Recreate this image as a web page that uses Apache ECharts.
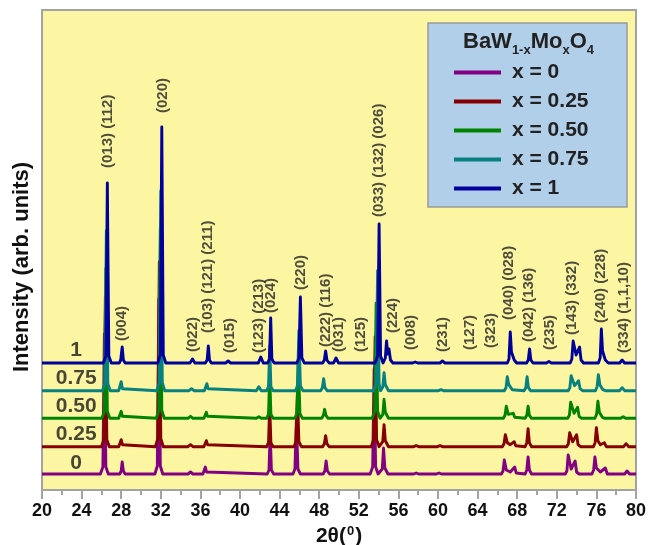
<!DOCTYPE html>
<html><head><meta charset="utf-8">
<script src="https://cdn.jsdelivr.net/npm/echarts/dist/echarts.min.js"></script>
<style>html,body{margin:0;padding:0;background:#fff}#c{width:649px;height:545px}</style>
</head><body><div id="c"></div>
<script>
const FONT = '"Liberation Sans", Arial, Helvetica, sans-serif';
const seriesNames = ['x = 0', 'x = 0.25', 'x = 0.50', 'x = 0.75', 'x = 1'];
const traceNames = ['0', '0.25', '0.50', '0.75', '1'];
const lineColors = ['#820082', '#850000', '#008400', '#078080', '#00009a'];
const offsets = [16, 43.3, 71.7, 99.3, 127];
const traceNameX = [23.45, 23.45, 23.45, 23.45, 23.45];
const traceNameY = [27, 56, 84, 112, 140];

// [2theta, intensity above the trace's baseline]
const xrd0 = [[20,0],
 [25.9,0],[26.15,7],[26.3,140],[26.45,7],[26.7,0],
 [27.85,0],[28.0,3],[28.1,12],[28.22,3],[28.4,0],
 [31.4,0],[31.65,8],[31.8,175],[31.95,8],[32.2,0],
 [34.75,0],[35.0,2],[35.25,0],
 [36.25,0],[36.4,2],[36.5,7],[36.62,2],[36.8,0],
 [42.75,0],[42.93,4],[43.05,42],[43.17,4],[43.4,0],
 [45.35,0],[45.55,5],[45.7,55],[45.85,5],[46.1,0],
 [48.4,0],[48.57,3],[48.7,13],[48.83,3],[49.05,0],
 [53.15,0],[53.4,7],[53.55,105],[53.7,7],[53.95,0],
 [54.15,0],[54.37,5],[54.5,26],[54.63,6],[54.75,4],[54.95,0],
 [57.55,0],[57.8,1],[58.05,0],
 [59.85,0],[60.1,1],[60.35,0],
 [66.4,0],[66.57,3],[66.7,14],[66.9,4],[67.3,2],[67.75,7],[67.9,1],[68.1,0],
 [68.8,0],[68.97,4],[69.1,17],[69.23,4],[69.45,0],
 [72.85,0],[73.02,3],[73.15,19],[73.45,5],[73.85,13],[74.0,2],[74.25,0],
 [75.55,0],[75.72,4],[75.85,17],[76.0,6],[76.4,2],[76.9,6],[77.1,0],
 [78.85,0],[79.1,3],[79.35,0],
 [80,0]];
const xrd025 = [[20,0],
 [26.0,0],[26.25,7],[26.4,150],[26.55,7],[26.8,0],
 [27.75,0],[27.9,2],[28.0,7],[28.12,2],[28.3,0],
 [31.45,0],[31.7,8],[31.85,185],[32.0,8],[32.25,0],
 [34.75,0],[35.0,2],[35.25,0],
 [36.35,0],[36.5,2],[36.6,6],[36.72,2],[36.9,0],
 [42.7,0],[42.88,4],[43.0,42],[43.12,4],[43.35,0],
 [45.45,0],[45.65,5],[45.8,55],[45.95,5],[46.2,0],
 [48.35,0],[48.52,3],[48.65,11],[48.78,3],[49.0,0],
 [53.25,0],[53.5,7],[53.65,110],[53.8,7],[54.05,0],
 [54.2,0],[54.42,5],[54.55,22],[54.68,6],[54.8,4],[55.0,0],
 [57.55,0],[57.8,1],[58.05,0],
 [59.95,0],[60.2,1],[60.45,0],
 [66.5,0],[66.67,3],[66.8,12],[67.0,4],[67.3,2],[67.7,5],[67.85,1],[68.05,0],
 [68.8,0],[68.97,4],[69.1,18],[69.23,4],[69.45,0],
 [73.0,0],[73.17,3],[73.3,14],[73.6,5],[74.0,12],[74.15,2],[74.4,0],
 [75.7,0],[75.87,4],[76.0,19],[76.15,6],[76.4,2],[76.8,4],[77.0,0],
 [78.75,0],[79.0,3],[79.25,0],
 [80,0]];
const xrd050 = [[20,0],
 [26.05,0],[26.3,7],[26.45,150],[26.6,7],[26.85,0],
 [27.75,0],[27.9,2],[28.0,7],[28.12,2],[28.3,0],
 [31.55,0],[31.8,8],[31.95,190],[32.1,8],[32.35,0],
 [34.75,0],[35.0,2],[35.25,0],
 [36.35,0],[36.5,2],[36.6,6],[36.72,2],[36.9,0],
 [41.65,0],[41.9,1.5],[42.15,0],
 [42.7,0],[42.88,4],[43.0,45],[43.12,4],[43.35,0],
 [45.55,0],[45.75,5],[45.9,58],[46.05,5],[46.3,0],
 [48.25,0],[48.42,3],[48.55,9],[48.68,3],[48.9,0],
 [53.35,0],[53.6,7],[53.75,115],[53.9,7],[54.15,0],
 [54.25,0],[54.43,4],[54.55,19],[54.68,6],[54.8,4],[55.0,0],
 [66.6,0],[66.77,3],[66.9,12],[67.1,4],[67.3,3],[67.6,5],[67.75,1],[67.95,0],
 [68.8,0],[68.97,3],[69.1,12],[69.23,3],[69.45,0],
 [73.1,0],[73.27,3],[73.4,16],[73.75,5],[74.1,11],[74.25,2],[74.5,0],
 [75.85,0],[76.02,4],[76.15,17],[76.3,6],[76.45,5],[76.6,1],[76.85,0],
 [78.45,0],[78.7,1.5],[78.95,0],
 [80,0]];
const xrd075 = [[20,0],
 [26.1,0],[26.35,7],[26.5,160],[26.65,7],[26.9,0],
 [27.75,0],[27.9,2],[28.0,9],[28.12,2],[28.3,0],
 [31.6,0],[31.85,8],[32.0,200],[32.15,8],[32.4,0],
 [34.85,0],[35.1,2],[35.35,0],
 [36.4,0],[36.55,2],[36.65,7],[36.77,2],[36.95,0],
 [41.65,0],[41.9,4],[42.15,0],
 [42.7,0],[42.88,4],[43.0,45],[43.12,4],[43.35,0],
 [45.6,0],[45.8,5],[45.95,60],[46.1,5],[46.35,0],
 [48.15,0],[48.32,3],[48.45,12],[48.58,3],[48.8,0],
 [53.5,0],[53.75,7],[53.9,120],[54.05,7],[54.2,0],
 [54.25,0],[54.43,4],[54.55,18],[54.68,6],[54.8,4],[55.0,0],
 [60.05,0],[60.3,1],[60.55,0],
 [66.7,0],[66.87,3],[67.0,14],[67.15,6],[67.35,6],[67.5,1],[67.7,0],
 [68.7,0],[68.87,3],[69.0,14],[69.13,3],[69.35,0],
 [73.15,0],[73.32,3],[73.45,15],[73.8,5],[74.2,10],[74.35,2],[74.6,0],
 [75.9,0],[76.07,4],[76.2,16],[76.35,6],[76.5,5],[76.65,1],[76.9,0],
 [78.35,0],[78.6,3],[78.85,0],
 [80,0]];
const xrd1 = [[20,0],
 [26.2,0],[26.45,7],[26.6,180],[26.75,7],[27.0,0],
 [27.8,0],[27.95,3],[28.1,16],[28.22,3],[28.4,0],
 [31.7,0],[31.95,8],[32.1,236],[32.25,8],[32.5,0],
 [34.95,0],[35.2,4],[35.45,0],
 [36.5,0],[36.68,3],[36.8,17],[36.92,3],[37.1,0],
 [38.55,0],[38.8,2],[39.05,0],
 [41.85,0],[42.1,6],[42.35,0],
 [42.8,0],[42.98,4],[43.1,45],[43.22,4],[43.45,0],
 [45.75,0],[45.95,5],[46.1,66],[46.25,5],[46.5,0],
 [48.35,0],[48.52,3],[48.65,12],[48.78,3],[49.0,0],
 [49.45,0],[49.7,5],[49.95,0],
 [53.65,0],[53.9,7],[54.05,139],[54.2,7],
 [54.45,0],[54.68,5],[54.8,22],[54.92,9],[55.05,14],[55.2,3],[55.45,0],
 [57.45,0],[57.7,1],[57.95,0],
 [60.2,0],[60.45,2],[60.7,0],
 [67.0,0],[67.17,4],[67.3,31],[67.42,11],[67.55,12],[67.7,3],[67.95,0],
 [68.95,0],[69.12,3],[69.25,14],[69.38,3],[69.6,0],
 [70.95,0],[71.2,1.5],[71.45,0],
 [73.35,0],[73.52,4],[73.65,22],[73.95,8],[74.3,16],[74.45,3],[74.7,0],
 [76.2,0],[76.38,5],[76.5,34],[76.62,12],[76.75,10],[76.9,3],[77.2,0],
 [78.35,0],[78.6,3],[78.85,0],
 [80,0]];
const patterns = [xrd0, xrd025, xrd050, xrd075, xrd1];

const hklText = ['(013) (112)','(004)','(020)','(022)','(103) (121) (211)','(015)','(123) (213)','(024)','(220)','(222) (116)','(031)','(125)','(033) (132) (026)','(224)','(008)','(231)','(127)','(323)','(040) (028)','(042) (136)','(235)','(143) (332)','(240) (228)','(334) (1,1,10)'];
const hklX = [26.65,28.1,32.2,35.25,36.8,39.0,41.9,43.1,46.1,48.65,50.0,52.25,54.05,55.4,57.25,60.45,63.2,65.35,67.2,69.2,71.25,73.5,76.4,78.75];
const hklY = [322,149,377,138,157,137,137,177,200,143,138,138,273,157,140,138,140,142,170,148,140,155,167,137];

const chart = echarts.init(document.getElementById('c'), null, {renderer: 'canvas'});
const lineSeries = patterns.map((p, i) => ({
  type: 'line', name: seriesNames[i],
  data: p.map(d => [d[0], d[1] + offsets[i]]),
  symbol: 'none', showSymbol: false, silent: true,
  lineStyle: {color: lineColors[i], width: 2.9, join: 'round'},
  itemStyle: {color: lineColors[i]},
  z: 2 + i
}));
const option = {
  animation: false,
  textStyle: {fontFamily: FONT},
  grid: {left: 42, right: 13, top: 10, bottom: 55, containLabel: false, outerBoundsMode: 'none',
    show: true, backgroundColor: '#fcf5a2', borderColor: '#a3a3a3', borderWidth: 2},
  title: {
    text: '{a|BaW}{s|1-x}{a|Mo}{s|x}{a|O}{s|4}', left: 463, top: 26, padding: 0, z: 10,
    textStyle: {rich: {
      a: {fontSize: 22, fontWeight: 'bold', color: '#222', fontFamily: FONT, verticalAlign: 'middle'},
      s: {fontSize: 13, fontWeight: 'bold', color: '#222', fontFamily: FONT, verticalAlign: 'bottom', padding: [18, 0, 0, 0]}
    }}
  },
  legend: {
    data: seriesNames, orient: 'vertical', left: 454, top: 62, padding: 0,
    itemWidth: 47, itemHeight: 4, itemGap: 8, icon: 'rect', z: 10,
    textStyle: {fontSize: 21, fontWeight: 'bold', color: '#222', fontFamily: FONT, padding: [0, 0, 0, 6]}
  },
  graphic: [
    {type: 'rect', z: 1, shape: {x: 428, y: 23, width: 199, height: 184}, style: {fill: '#b2cfea', stroke: '#9a9a9a', lineWidth: 1.5}},
    {type: 'text', z: 5, x: 22, y: 267, rotation: Math.PI / 2,
     style: {text: 'Intensity (arb. units)', fontSize: 22, fontWeight: 'bold', fontFamily: FONT, fill: '#111', align: 'center', verticalAlign: 'middle'}}
  ],
  xAxis: {
    type: 'value', min: 20, max: 80, interval: 4,
    name: '{a|2θ(}{p|0}{a|)}', nameLocation: 'middle', nameGap: 33,
    nameTextStyle: {rich: {
      a: {fontSize: 21, fontWeight: 'bold', color: '#111', fontFamily: FONT},
      p: {fontSize: 13, fontWeight: 'bold', color: '#111', fontFamily: FONT, verticalAlign: 'top', padding: [0, 1, 9, 1]}
    }},
    axisLine: {show: true, onZero: false, lineStyle: {color: '#a3a3a3', width: 2}},
    axisTick: {show: true, length: 9, lineStyle: {color: '#a3a3a3', width: 2}},
    minorTick: {show: true, splitNumber: 2, length: 5, lineStyle: {color: '#a3a3a3', width: 2}},
    axisLabel: {fontSize: 18, fontWeight: 'bold', color: '#111', margin: 12, fontFamily: FONT},
    splitLine: {show: false}
  },
  yAxis: {type: 'value', min: 0, max: 480, show: false, splitLine: {show: false}},
  series: lineSeries.concat([
    {
      type: 'scatter', silent: true, symbolSize: 1, itemStyle: {color: 'rgba(0,0,0,0)'}, z: 20,
      data: hklText.map((t, i) => ({value: [hklX[i], hklY[i]], name: t})),
      label: {show: true, position: 'inside', rotate: 90, align: 'left', verticalAlign: 'middle',
        formatter: p => p.name, fontSize: 15, fontWeight: 'bold', color: '#222', fontFamily: FONT}
    },
    {
      type: 'scatter', silent: true, symbolSize: 1, itemStyle: {color: 'rgba(0,0,0,0)'}, z: 20,
      data: traceNames.map((t, i) => ({value: [traceNameX[i], traceNameY[i]], name: t})),
      label: {show: true, position: 'inside', align: 'center', verticalAlign: 'middle',
        formatter: p => p.name, fontSize: 21, fontWeight: 'bold', color: '#1a1a1a', fontFamily: FONT}
    }
  ])
};
chart.setOption(option);
</script></body></html>
